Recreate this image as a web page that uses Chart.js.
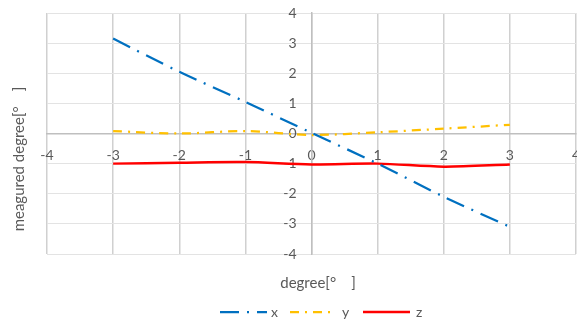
<!DOCTYPE html>
<html>
<head>
<meta charset="utf-8">
<script src="https://cdn.jsdelivr.net/npm/chart.js@4"></script>
<style>
html,body{margin:0;padding:0;background:#fff;}
#wrap{width:577px;height:320px;position:relative;}
</style>
</head>
<body>
<div id="wrap"><canvas id="c" width="577" height="320"></canvas></div>
<script>
const xValues = [-3, -2, -1, 0, 1, 2, 3];
const seriesX = [3.15, 2.05, 1.05, 0.02, -1.0, -2.1, -3.1];
const seriesY = [0.08, 0.0, 0.08, -0.05, 0.04, 0.16, 0.29];
const seriesZ = [-1.0, -0.97, -0.95, -1.03, -1.0, -1.1, -1.03];
const seriesNames = ['x', 'y', 'z'];
const xTitle = 'degree[°\u3000]';
const yTitle = 'meagured degree[°\u3000]';
const axisMin = -4, axisMax = 4;

const colors = ['#0070C0', '#FFC000', '#FF0000'];
const dashes = [[19, 8, 2, 8], [9, 6, 2, 6], []];
const widths = [2.25, 2.25, 2.5];
const allSeries = [seriesX, seriesY, seriesZ];

const FONT = 'Lato, "Open Sans", sans-serif';

const datasets = allSeries.map((s, i) => ({
  label: seriesNames[i],
  data: xValues.map((x, j) => ({x: x, y: s[j]})),
  showLine: true,
  borderColor: colors[i],
  backgroundColor: colors[i],
  borderWidth: widths[i],
  borderDash: dashes[i],
  borderCapStyle: 'butt',
  pointRadius: 0,
  pointHoverRadius: 0,
  tension: 0.3,
  fill: false
}));

const yLabelGap = 15;

const overlay = {
  id: 'overlay',
  beforeDraw(chart) {
    const ys = chart.scales.y;
    const axisPx = chart.scales.x.getPixelForValue(0);
    const items = ys.getLabelItems();
    items.forEach(it => {
      it.options.translation[0] = axisPx - yLabelGap;
      it.options.textAlign = 'right';
    });
  },
  afterDraw(chart) {
    const ctx = chart.ctx;
    ctx.save();
    ctx.fillStyle = '#595959';
    ctx.font = '15px ' + FONT;
    ctx.textAlign = 'center';
    ctx.textBaseline = 'middle';
    ctx.fillText(xTitle, 318, 283);
    ctx.save();
    ctx.translate(19, 159);
    ctx.rotate(-Math.PI / 2);
    ctx.fillText(yTitle, 0, 0);
    ctx.restore();
    // legend
    const items = [
      {x0: 220, x1: 267, tx: 271},
      {x0: 290, x1: 330, tx: 342},
      {x0: 363, x1: 410, tx: 416}
    ];
    const ly = 312;
    ctx.font = '14px ' + FONT;
    ctx.textAlign = 'left';
    chart.data.datasets.forEach((ds, i) => {
      const it = items[i];
      ctx.beginPath();
      ctx.strokeStyle = ds.borderColor;
      ctx.lineWidth = ds.borderWidth;
      ctx.lineCap = 'butt';
      ctx.setLineDash(ds.borderDash);
      ctx.moveTo(it.x0, ly);
      ctx.lineTo(it.x1, ly);
      ctx.stroke();
      ctx.setLineDash([]);
      ctx.fillStyle = '#595959';
      ctx.fillText(ds.label, it.tx, ly);
    });
    ctx.restore();
  }
};

function zeroPad(scale) {
  scale.paddingTop = 0;
  scale.paddingBottom = 0;
  scale.paddingLeft = 0;
  scale.paddingRight = 0;
  if (scale.axis === 'x') { scale.height = 0; } else { scale.width = 0; }
}

new Chart(document.getElementById('c'), {
  type: 'scatter',
  data: {datasets: datasets},
  plugins: [overlay],
  options: {
    responsive: false,
    animation: false,
    events: [],
    layout: {padding: {left: 47, top: 13, right: 1, bottom: 66}},
    plugins: {legend: {display: false}, tooltip: {enabled: false}},
    scales: {
      x: {
        type: 'linear',
        min: axisMin, max: axisMax,
        position: {y: 0},
        afterFit: zeroPad,
        ticks: {stepSize: 1, color: '#595959', font: {size: 14, family: FONT}, padding: 14, maxRotation: 0, autoSkip: false},
        grid: {color: '#d0d0d0', lineWidth: 1.5, drawTicks: false},
        border: {display: true, color: '#bfbfbf', width: 1.5}
      },
      y: {
        type: 'linear',
        min: axisMin, max: axisMax,
        position: {x: 0},
        afterFit: zeroPad,
        ticks: {stepSize: 1, color: '#595959', font: {size: 14, family: FONT}, padding: 17},
        grid: {color: '#e3e3e3', lineWidth: 1, drawTicks: false},
        border: {display: true, color: '#bfbfbf', width: 1.5}
      }
    }
  }
});
</script>
</body>
</html>
